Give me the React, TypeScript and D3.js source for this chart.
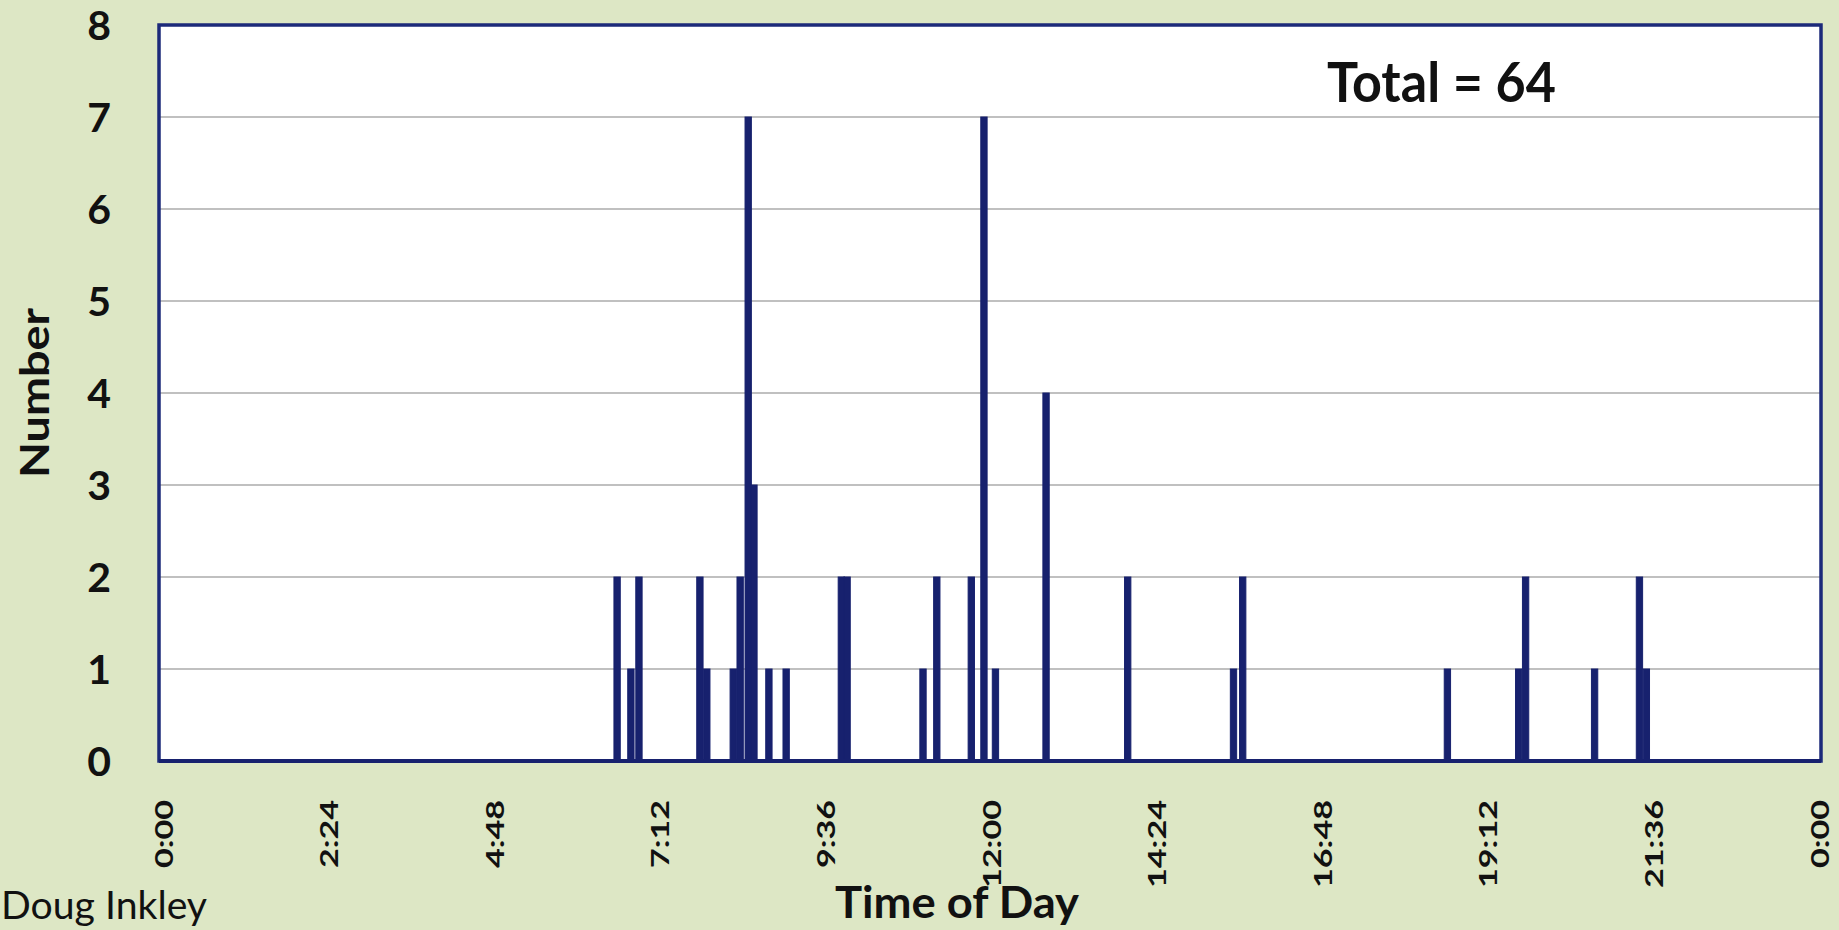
import React from "react";
import * as d3 from "d3";

// ---- data ----
const eventTimes: string[] = [
  "6:34", "6:46", "6:53", "7:46", "7:52", "8:15", "8:21", "8:28", "8:33", "8:46",
  "9:01", "9:49", "9:54", "11:00", "11:12", "11:42", "11:53", "12:03", "12:47",
  "13:58", "15:30", "15:38", "18:36", "19:38", "19:44", "20:44", "21:23", "21:29",
];
const eventCounts: number[] = [
  2, 1, 2, 2, 1, 1, 2, 7, 3, 1,
  1, 2, 2, 1, 2, 2, 7, 1, 4,
  2, 1, 2, 1, 1, 2, 1, 2, 1,
];
const xTickLabels: string[] = [
  "0:00", "2:24", "4:48", "7:12", "9:36", "12:00", "14:24", "16:48", "19:12", "21:36", "0:00",
];
const yTicks: number[] = [0, 1, 2, 3, 4, 5, 6, 7, 8];
const totalLabel = "Total = 64";
const xTitle = "Time of Day";
const yTitle = "Number";
const credit = "Doug Inkley";

const W = 1839;
const H = 930;
const BIN_MIN = 5.5;

const toMin = (s: string) => {
  const [h, m] = s.split(":").map(Number);
  return h * 60 + m;
};

export default function App() {
  const plot = { left: 159, right: 1821, top: 25, bottom: 761 };
  const x = d3.scaleLinear().domain([0, 1440]).range([164, 1820]);
  const y = d3.scaleLinear().domain([0, 8]).range([plot.bottom, plot.top]);
  const barW = x(BIN_MIN) - x(0);
  const navy = "#17216e";
  const font = "Lato, 'Open Sans', sans-serif";

  const data = eventTimes.map((t, i) => ({ m: toMin(t), v: eventCounts[i] }));

  return (
    <svg
      width={W}
      height={H}
      style={{ position: "absolute", left: 0, top: 0, display: "block" }}
    >
      <rect x={0} y={0} width={W} height={H} fill="#dde7c5" />
      {/* plot area */}
      <rect
        x={plot.left}
        y={plot.top}
        width={plot.right - plot.left}
        height={plot.bottom - plot.top}
        fill="#ffffff"
      />
      {/* gridlines */}
      {yTicks.slice(1, -1).map((t) => (
        <line
          key={"g" + t}
          x1={plot.left}
          x2={plot.right}
          y1={y(t)}
          y2={y(t)}
          stroke="#ababab"
          strokeWidth={1.5}
        />
      ))}
      {/* bars */}
      {data.map((d, i) => (
        <rect
          key={"b" + i}
          x={x(d.m) - barW / 2}
          y={y(d.v)}
          width={barW}
          height={y(0) - y(d.v)}
          fill={navy}
          stroke={navy}
          strokeWidth={1}
        />
      ))}
      {/* border */}
      <rect
        x={plot.left}
        y={plot.top}
        width={plot.right - plot.left}
        height={plot.bottom - plot.top}
        fill="none"
        stroke="#1c2a7a"
        strokeWidth={3.5}
      />
      <line
        x1={plot.left}
        x2={plot.right}
        y1={plot.bottom}
        y2={plot.bottom}
        stroke={navy}
        strokeWidth={4}
      />
      {/* y tick labels */}
      {yTicks.map((t) => (
        <text
          key={"y" + t}
          x={111}
          y={y(t)}
          dy="0.36em"
          textAnchor="end"
          fontFamily={font}
          fontWeight={700}
          fontSize={41}
          fill="#111"
        >
          {t}
        </text>
      ))}
      {/* x tick labels */}
      {xTickLabels.map((s, i) => {
        const xm = x(i * 144);
        const len = s.length === 4 ? 68 : 88;
        return (
          <text
            key={"x" + i}
            transform={`translate(${xm},800) rotate(-90)`}
            dy="0.36em"
            textAnchor="end"
            fontFamily={font}
            fontWeight={700}
            fontSize={24}
            textLength={len}
            lengthAdjust="spacingAndGlyphs"
            fill="#111"
          >
            {s}
          </text>
        );
      })}
      {/* total annotation */}
      <text
        x={1327}
        y={102}
        fontFamily={font}
        fontWeight={700}
        fontSize={56}
        textLength={229}
        lengthAdjust="spacingAndGlyphs"
        fill="#111"
      >
        {totalLabel}
      </text>
      {/* axis titles */}
      <text
        transform={`translate(35,393) rotate(-90)`}
        dy="0.36em"
        textAnchor="middle"
        fontFamily={font}
        fontWeight={700}
        fontSize={40}
        textLength={170}
        lengthAdjust="spacingAndGlyphs"
        fill="#111"
      >
        {yTitle}
      </text>
      <text
        x={835}
        y={918}
        fontFamily={font}
        fontWeight={700}
        fontSize={44}
        textLength={244}
        lengthAdjust="spacingAndGlyphs"
        fill="#111"
      >
        {xTitle}
      </text>
      <text
        x={1}
        y={919}
        fontFamily={font}
        fontWeight={400}
        fontSize={38}
        textLength={206}
        lengthAdjust="spacingAndGlyphs"
        fill="#111"
      >
        {credit}
      </text>
    </svg>
  );
}
